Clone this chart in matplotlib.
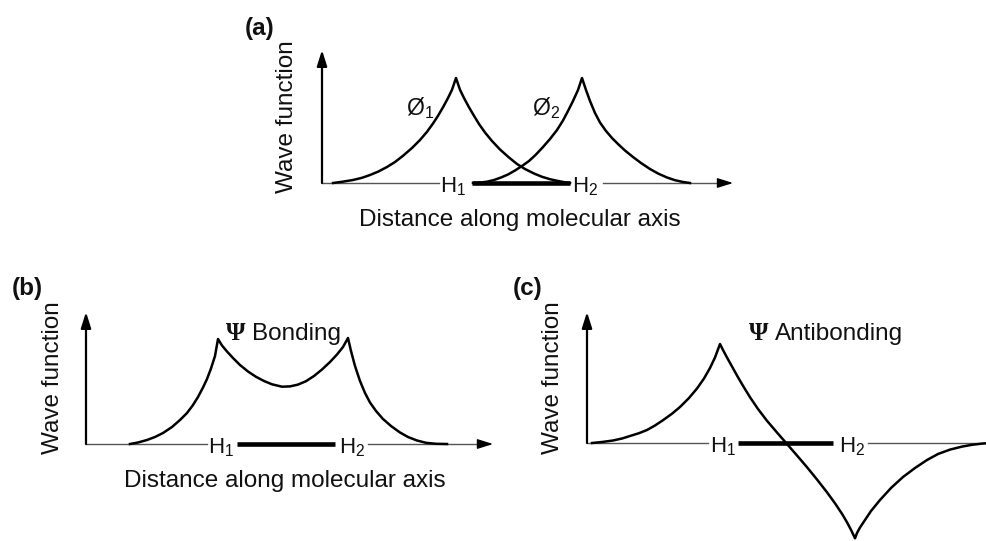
import matplotlib as mpl
from matplotlib import pyplot as plt

mpl.rc('font', family='Liberation Sans')
mpl.rc('mathtext', fontset='custom', rm='Liberation Sans', it='Liberation Sans:italic')

# ---- curve data (distance along axis, wave function) ----
# (a) the two atomic orbitals
phi1_x = [0.11, 0.20, 0.31, 0.40, 0.48, 0.56, 0.65, 0.73, 0.81, 0.90, 0.98, 1.05, 1.11, 1.16,
          1.21, 1.26, 1.30, 1.34,
          1.38, 1.42, 1.47, 1.52, 1.57, 1.63, 1.70, 1.78, 1.87, 1.95, 2.03, 2.12, 2.20,
          2.28, 2.36, 2.43, 2.48]
phi1_y = [0.000, 0.012, 0.030, 0.052, 0.080, 0.113, 0.160, 0.210, 0.272, 0.350, 0.430, 0.512,
          0.595, 0.672, 0.757, 0.850, 0.932, 1.050,
          0.932, 0.850, 0.757, 0.672, 0.590, 0.505, 0.420, 0.335, 0.255, 0.190, 0.140, 0.095,
          0.062, 0.038, 0.020, 0.007, 0.000]
phi2_x = [1.51, 1.58, 1.65, 1.72, 1.79, 1.86, 1.93, 2.00, 2.07, 2.14, 2.21, 2.28, 2.35, 2.41,
          2.46, 2.51, 2.56, 2.60,
          2.64, 2.68, 2.73, 2.78, 2.84, 2.90, 2.96, 3.03, 3.11, 3.19, 3.28, 3.36, 3.45,
          3.53, 3.61, 3.68]
phi2_y = [0.000, 0.004, 0.013, 0.030, 0.055, 0.085, 0.125, 0.170, 0.220, 0.285, 0.360, 0.440,
          0.530, 0.625, 0.720, 0.820, 0.930, 1.050,
          0.930, 0.820, 0.700, 0.605, 0.520, 0.450, 0.390, 0.325, 0.260, 0.200, 0.140, 0.095,
          0.055, 0.028, 0.010, 0.000]

# (b) bonding combination
bond_x = [0.44, 0.52, 0.61, 0.69, 0.77, 0.86, 0.94, 1.01, 1.07, 1.12, 1.17, 1.21, 1.25, 1.29,
          1.32,
          1.36, 1.41, 1.47, 1.54, 1.62, 1.70, 1.78, 1.86, 1.96, 2.04, 2.12, 2.20, 2.28, 2.36,
          2.44, 2.51, 2.57, 2.62,
          2.65, 2.69, 2.74, 2.79, 2.84, 2.90, 2.97, 3.05, 3.14, 3.22, 3.31, 3.40, 3.50, 3.61]
bond_y = [0.000, 0.015, 0.040, 0.070, 0.110, 0.170, 0.240, 0.310, 0.390, 0.470, 0.565, 0.650,
          0.755, 0.880, 1.050,
          0.985, 0.925, 0.860, 0.790, 0.725, 0.672, 0.630, 0.597, 0.573, 0.576, 0.594, 0.628,
          0.680, 0.745, 0.820, 0.895, 0.970, 1.060,
          0.930, 0.780, 0.630, 0.510, 0.415, 0.330, 0.250, 0.180, 0.115, 0.070, 0.035, 0.012,
          0.002, 0.000]

# (c) antibonding combination
anti_x = [0.05, 0.15, 0.26, 0.35, 0.43, 0.52, 0.60, 0.68, 0.76, 0.85, 0.93, 1.02, 1.10, 1.17,
          1.23, 1.28, 1.33,
          1.36, 1.40, 1.45, 1.50, 1.56, 1.63, 1.71, 1.80, 1.90, 2.00, 2.10, 2.20, 2.30, 2.40,
          2.48, 2.55, 2.60, 2.64, 2.68,
          2.70, 2.73, 2.76, 2.84, 2.93, 3.04, 3.16, 3.28, 3.40, 3.51, 3.63, 3.75, 3.85, 3.96, 4.05]
anti_y = [0.000, 0.010, 0.025, 0.045, 0.070, 0.098, 0.130, 0.175, 0.228, 0.293, 0.360, 0.450,
          0.545, 0.645, 0.750, 0.855, 0.990,
          0.930, 0.855, 0.765, 0.675, 0.572, 0.458, 0.340, 0.222, 0.105, -0.010, -0.125, -0.242,
          -0.365, -0.493, -0.603, -0.708, -0.793, -0.868, -0.953,
          -0.900, -0.845, -0.800, -0.680, -0.570, -0.450, -0.340, -0.250, -0.170, -0.110, -0.066,
          -0.036, -0.018, -0.005, 0.000]

# axis segments per panel: thin end, H1 label x, bond (start, end), H2 label x, thin start, arrow tips
axis_a = dict(thin1=1.17, h1=1.18, bond=(1.50, 2.48), h2=2.50, thin2=2.81, xtip=4.11, ytip=1.33)
axis_b = dict(thin1=1.21, h1=1.22, bond=(1.51, 2.49), h2=2.53, thin2=2.82, xtip=4.07, ytip=1.32)
axis_c = dict(thin1=1.21, h1=1.23, bond=(1.51, 2.46), h2=2.52, thin2=2.81, xtip=4.08, ytip=1.31)

W, H = 987, 541
fig = plt.figure(figsize=(W / 100, H / 100), dpi=100)

FS = 17.5
INK = '#111111'
CURVE_LW = 1.8


def panel(origin):
    # full-figure transparent axes, origin of the diagram at pixel position origin
    ox, oy = origin
    ax = fig.add_axes([0, 0, 1, 1])
    ax.set_xlim(-ox / 100, (W - ox) / 100)
    ax.set_ylim((oy - H) / 100, oy / 100)
    ax.axis('off')
    ax.patch.set_alpha(0)
    return ax


def draw_axes(ax, s):
    ax.plot([0, s['thin1']], [0, 0], color='#555555', lw=1.0)
    ax.plot(list(s['bond']), [0, 0], color='k', lw=3.3, solid_capstyle='butt')
    ax.plot([s['thin2'], s['xtip'] - 0.05], [0, 0], color='#555555', lw=1.0)
    arrow = dict(arrowstyle='-|>,head_length=0.95,head_width=0.3', color='k',
                 shrinkA=0, shrinkB=0, mutation_scale=10)
    ax.annotate('', xy=(s['xtip'], 0), xytext=(s['xtip'] - 0.1, 0),
                arrowprops=dict(arrow, lw=1.0))
    ax.annotate('', xy=(0, s['ytip']), xytext=(0, 0),
                arrowprops=dict(arrow, lw=1.6))
    ax.text(s['h1'], -0.095, r'H$_\mathrm{1}$', fontsize=16, color=INK, ha='left', va='baseline')
    ax.text(s['h2'], -0.095, r'H$_\mathrm{2}$', fontsize=16, color=INK, ha='left', va='baseline')


# (a)
ax = panel((322, 183))
draw_axes(ax, axis_a)
ax.plot(phi1_x, phi1_y, color='k', lw=CURVE_LW)
ax.plot(phi2_x, phi2_y, color='k', lw=CURVE_LW)
ax.text(-0.62, 1.55, '(a)', fontsize=FS, fontweight='bold', ha='center', va='center', color=INK)
ax.text(-0.35, 0.66, 'Wave function', fontsize=FS, rotation=90, ha='center', va='center', color=INK)
ax.text(1.98, -0.43, 'Distance along molecular axis', fontsize=FS, ha='center', va='baseline', color=INK)
ax.text(0.84, 0.68, r'Ø$_\mathrm{1}$', fontsize=16.5, ha='left', va='baseline', color=INK)
ax.text(2.10, 0.68, r'Ø$_\mathrm{2}$', fontsize=16.5, ha='left', va='baseline', color=INK)

# (b)
ax = panel((86, 444))
draw_axes(ax, axis_b)
ax.plot(bond_x, bond_y, color='k', lw=CURVE_LW)
ax.text(-0.59, 1.55, '(b)', fontsize=FS, fontweight='bold', ha='center', va='center', color=INK)
ax.text(-0.33, 0.66, 'Wave function', fontsize=FS, rotation=90, ha='center', va='center', color=INK)
ax.text(1.99, -0.43, 'Distance along molecular axis', fontsize=FS, ha='center', va='baseline', color=INK)
ax.text(1.40, 1.04, 'Ψ', fontsize=18, family='Liberation Serif', fontweight='bold',
        ha='left', va='baseline', color=INK)
ax.text(1.66, 1.04, 'Bonding', fontsize=FS, ha='left', va='baseline', color=INK)

# (c)
ax = panel((587, 443))
draw_axes(ax, axis_c)
ax.plot(anti_x, anti_y, color='k', lw=CURVE_LW)
ax.text(-0.59, 1.54, '(c)', fontsize=FS, fontweight='bold', ha='center', va='center', color=INK)
ax.text(-0.34, 0.65, 'Wave function', fontsize=FS, rotation=90, ha='center', va='center', color=INK)
ax.text(1.62, 1.03, 'Ψ', fontsize=18, family='Liberation Serif', fontweight='bold',
        ha='left', va='baseline', color=INK)
ax.text(1.88, 1.03, 'Antibonding', fontsize=FS, ha='left', va='baseline', color=INK)

fig.savefig('out.png', dpi=100)
